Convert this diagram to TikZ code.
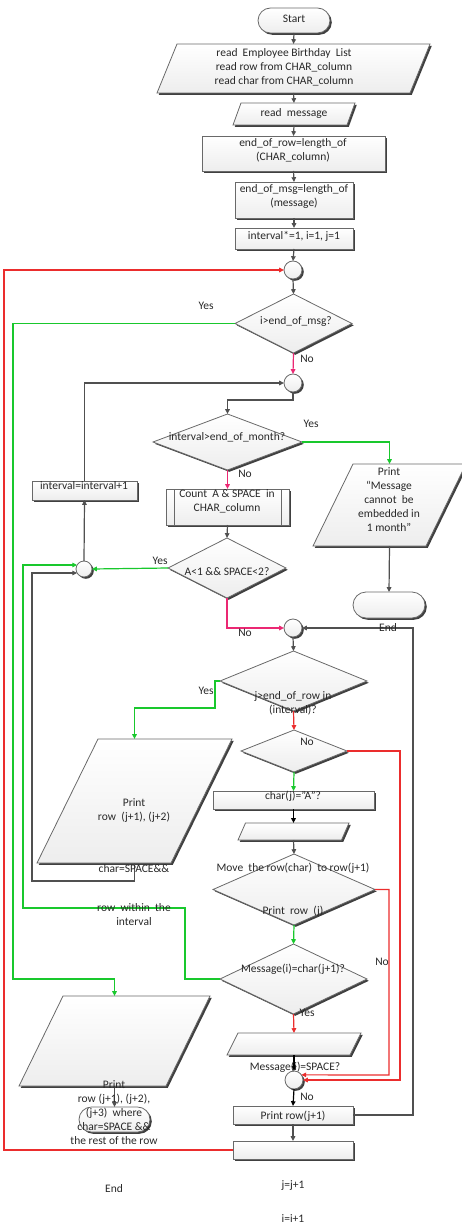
\documentclass[tikz,border=0pt]{standalone}
\usepackage{fontspec}
\setmainfont{Carlito}
\usetikzlibrary{shapes.geometric,shapes.misc,shadows,arrows.meta}
\definecolor{lgreen}{RGB}{25,200,45}
\definecolor{lpink}{RGB}{235,40,115}
\definecolor{lred}{RGB}{235,45,45}
\definecolor{lgray}{RGB}{80,80,80}
\definecolor{edgec}{RGB}{105,105,105}
\definecolor{txtc}{RGB}{40,40,40}
\newcommand\drawpara[6]{%
  \node[inner sep=0pt, outer sep=0pt, minimum width=#4, minimum height=#5] (#1) at (#2,#3) {};
  \path[shpath] (#1.south west) -- ([xshift=-#6pt]#1.south east) -- (#1.north east)
     -- ([xshift=#6pt]#1.north west) -- cycle;
}
\begin{document}
\begin{tikzpicture}[x=1pt,y=-1pt,
  shpath/.style={draw=edgec, line width=0.8pt, top color=white, bottom color=gray!14,
    drop shadow={shadow xshift=1.8pt, shadow yshift=-1.8pt, fill=black, opacity=0.75}},
  shp/.style={shpath, inner sep=0pt, outer sep=0pt},
  boxs/.style={shp, rectangle},
  term/.style={shp, rounded rectangle},
  dia/.style={shp, diamond},
  junc/.style={shp, circle, minimum size=18pt},
  con/.style={draw=lgray, line width=1.2pt, -{Triangle[length=4.8pt,width=4.5pt]}},
  bcon/.style={con, draw=black},
  gcon/.style={con, draw=lgreen},
  pcon/.style={con, draw=lpink},
  rcon/.style={con, draw=lred},
  lbl/.style={font=\fontsize{11.5}{14}\selectfont, text=txtc, inner sep=0pt, align=center},
]
\useasboundingbox (0,0) rectangle (461,1230);

% shapes
\node[term, minimum width=72, minimum height=25] (start) at (294,20.5) {};
\drawpara{in1}{293.5}{68.5}{273}{49}{20}
\drawpara{in2}{294}{114}{122}{22}{8}
\node[boxs, minimum width=183, minimum height=35] (r1) at (293.5,153.5) {};
\node[boxs, minimum width=118, minimum height=36] (r2) at (294,200) {};
\node[boxs, minimum width=118, minimum height=21] (r3) at (294,238.5) {};
\node[junc] (c1) at (293,270) {};
\node[dia, minimum width=117, minimum height=59] (d1) at (293.5,323.5) {};
\node[junc] (c2) at (293,383) {};
\node[dia, minimum width=149, minimum height=56] (d2) at (227.5,442) {};
\node[boxs, minimum width=105, minimum height=19] (rint) at (84.5,490.5) {};
\node[boxs, minimum width=123, minimum height=36] (cnt) at (227.5,507) {};
\drawpara{pmsg}{389.5}{505}{153}{82}{40}
\node[term, minimum width=72, minimum height=26] (end1) at (389,605) {};
\node[dia, minimum width=118, minimum height=60] (d3) at (227,568) {};
\node[junc, minimum size=16pt] (c3) at (84,569) {};
\node[junc] (c4) at (293,628) {};
\node[dia, minimum width=147, minimum height=60] (d4) at (293.5,681) {};
\node[dia, minimum width=106, minimum height=42] (d5) at (294,751) {};
\drawpara{p3}{134.5}{801}{195}{124}{61}
\node[boxs, minimum width=161, minimum height=18] (rch) at (293.5,800) {};
\drawpara{p4}{293.5}{831.5}{111}{17}{7.5}
\node[dia, minimum width=162, minimum height=71] (d6) at (294,889.5) {};
\node[dia, minimum width=147, minimum height=70] (d7) at (293.5,979) {};
\drawpara{p5}{294}{1044}{134}{22}{11}
\node[junc] (c5) at (294,1080) {};
\node[boxs, minimum width=120, minimum height=18] (rpr) at (293,1115) {};
\node[boxs, minimum width=120, minimum height=18] (rbot) at (293,1150) {};
\drawpara{p6}{114.5}{1041}{191}{90}{44}
\node[term, minimum width=71, minimum height=25] (t3) at (114.5,1119.5) {};
\draw[draw=edgec, line width=0.8pt] ([xshift=8pt]cnt.north west) -- ([xshift=8pt]cnt.south west)
  ([xshift=-8pt]cnt.north east) -- ([xshift=-8pt]cnt.south east);

% connectors
\draw[con] (start.south) -- (in1.north);
\draw[con] (in1.south) -- (in2.north);
\draw[con] (in2.south) -- (r1.north);
\draw[con] (r1.south) -- (r2.north);
\draw[con] (r2.south) -- (r3.north);
\draw[con] (r3.south) -- (c1.north);
\draw[con] (c1.south) -- (d1.north);
\draw[gcon] (d1.west) -| (13,979) -| (p6.north);
\draw[pcon] (d1.south) -- (c2.north);
\draw[con] (c2.south) -- ++(0,8) -| (d2.north);
\draw[con] (rint.north) |- (c2.west);
\draw[gcon] (d2.east) -| (pmsg.north);
\draw[pcon] (d2.south) -- (cnt.north);
\draw[con] (cnt.south) -- (d3.north);
\draw[gcon] (d3.west) -- (c3.east);
\draw[con] (c3.north) -- (rint.south);
\draw[pcon] (d3.south) |- (c4.west);
\draw[con] (pmsg.south) -- (end1.north);
\draw[con] (c4.south) -- (d4.north);
\draw[gcon] (d4.west) -- ++(-5,0) |- (134.5,708) -- (p3.north);
\draw[rcon] (d4.south) -- (d5.north);
\draw[rcon] (d5.east) -| (400,1080) -- (c5.east);
\draw[gcon] (d5.south) -- (rch.north);
\draw[bcon] (rch.south) -- (p4.north);
\draw[con] (p4.south) -- (d6.north);
\draw[rcon] (d6.east) -| (389,1075) -- (c5.35);
\draw[gcon] (d6.south) -- (d7.north);
\draw[gcon] (d7.west) -- (185,979) |- (23,908) |- (c3.150);
\draw[con] (p3.south) |- (32,881) |- (c3.210);
\draw[rcon] (d7.south) -- (p5.north);
\draw[bcon] (p5.south) -- (c5.north);
\draw[bcon] (c5.south) -- (rpr.north);
\draw[con] (rpr.east) -| (413,628) -- (c4.east);
\draw[con] (rpr.south) -- (rbot.north);
\draw[rcon] (rbot.west) -| (4,270) -- (c1.west);
\draw[con] (p6.south) -- (t3.north);

% texts
\node[lbl] (l1) at (294,19) {Start};
\node[lbl] (l2) at (284,67) {read\ \ Employee Birthday\ \ List\\read row from CHAR\_column\\read char from CHAR\_column};
\node[lbl] (l3) at (294,113) {read\ \ message};
\node[lbl] (l4) at (293,150) {end\_of\_row=length\_of\\(CHAR\_column)};
\node[lbl] (l5) at (294,196) {end\_of\_msg=length\_of\\(message)};
\node[lbl] (l6) at (294,236) {interval*=1, i=1, j=1};
\node[lbl] (l7) at (206,306) {Yes};
\node[lbl] (l8) at (296,321) {i>end\_of\_msg?};
\node[lbl] (l9) at (307,359) {No};
\node[lbl] (l10) at (311,424) {Yes};
\node[lbl] (l11) at (227,437) {interval>end\_of\_month?};
\node[lbl] (l12) at (245,474) {No};
\node[lbl] (l13) at (84,486) {interval=interval+1};
\node[lbl] (l14) at (227,501.5) {Count\ \ A \& SPACE\ \ in\\CHAR\_column};
\node[lbl] (l15) at (389,500) {Print\\“Message\\cannot\ \ be\\embedded in\\1 month”};
\node[lbl] (l16) at (388,628) {End};
\node[lbl] (l17) at (160,561) {Yes};
\node[lbl] (l18) at (227,572) {A<1 \&\& SPACE<2?};
\node[lbl] (l19) at (245,633) {No};
\node[lbl] (l20) at (206,691) {Yes};
\node[lbl] (l21) at (293,703) {j>end\_of\_row in\\(interval)?};
\node[lbl] (l22) at (307,742) {No};
\node[lbl] (l23) at (134,810.5) {Print\\row\ \ (j+1), (j+2)};
\node[lbl] (l24) at (134,869) {char=SPACE\&\&};
\node[lbl] (l25) at (134,915) {row\ \ within\ \ the\\interval};
\node[lbl] (l26) at (293,796) {char(j)=”A”?};
\node[lbl] (l27) at (293,868) {Move\ \ the row(char)\ \ to row(j+1)};
\node[lbl] (l28) at (293,911) {Print\ \ row\ \ (j)};
\node[lbl] (l29) at (382,962) {No};
\node[lbl] (l30) at (293,969) {Message(i)=char(j+1)?};
\node[lbl] (l31) at (307,1013) {Yes};
\node[lbl] (l32) at (295,1067) {Message(i)=SPACE?};
\node[lbl] (l33) at (307,1097) {No};
\node[lbl] (l34) at (293,1116) {Print row(j+1)};
\node[lbl] (l35) at (114,1112.5) {Print\\row (j+1), (j+2),\\(j+3)\ \ where\\char=SPACE \&\&\\the rest of the row};
\node[lbl] (l36) at (114,1189) {End};
\node[lbl] (l37) at (293,1186) {j=j+1};
\node[lbl] (l38) at (293,1219) {i=i+1};
\end{tikzpicture}
\end{document}
